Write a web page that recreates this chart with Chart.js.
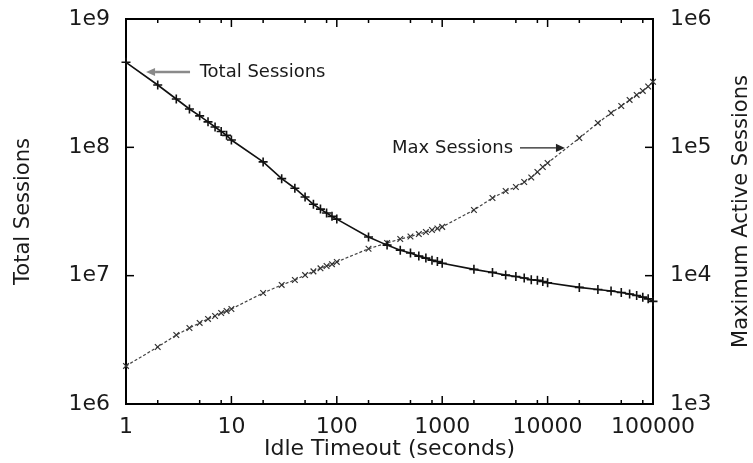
<!DOCTYPE html>
<html lang="en">
<head>
<meta charset="UTF-8">
<title>Idle Timeout vs Sessions</title>
<script src="https://cdn.jsdelivr.net/npm/chart.js@4.4.1/dist/chart.umd.min.js"></script>
<style>
  html, body { margin: 0; padding: 0; background: #fff; }
  #wrap { width: 753px; height: 463px; }
</style>
</head>
<body>
<div id="wrap"><canvas id="chart" width="753" height="463"></canvas></div>
<script>
// idle timeout values (seconds)
const timeouts = [1, 2, 3, 4, 5, 6, 7, 8, 9,
  10, 20, 30, 40, 50, 60, 70, 80, 90,
  100, 200, 300, 400, 500, 600, 700, 800, 900,
  1000, 2000, 3000, 4000, 5000, 6000, 7000, 8000, 9000,
  10000, 20000, 30000, 40000, 50000, 60000, 70000, 80000, 90000,
  100000];

// left axis
const totalSessions = [4.6e8, 3.06e8, 2.38e8, 1.99e8, 1.76e8, 1.58e8, 1.44e8, 1.33e8, 1.24e8,
  1.14e8, 7.7e7, 5.7e7, 4.8e7, 4.1e7, 3.6e7, 3.3e7, 3.08e7, 2.9e7,
  2.76e7, 2.0e7, 1.73e7, 1.58e7, 1.5e7, 1.42e7, 1.37e7, 1.32e7, 1.29e7,
  1.25e7, 1.12e7, 1.06e7, 1.01e7, 9.85e6, 9.6e6, 9.3e6, 9.2e6, 9.0e6,
  8.8e6, 8.1e6, 7.8e6, 7.6e6, 7.4e6, 7.2e6, 7.0e6, 6.8e6, 6.6e6,
  6.3e6];

// right axis
const maxSessions = [1980, 2780, 3450, 3910, 4280, 4600, 4850, 5120, 5310,
  5500, 7330, 8470, 9250, 10100, 10800, 11400, 11900, 12300,
  12800, 16200, 18000, 19300, 20200, 21100, 21900, 22700, 23300,
  24000, 32500, 40300, 45700, 49100, 53700, 58200, 64300, 70300,
  75500, 118000, 155000, 185000, 210000, 234000, 256000, 275000, 298000,
  324000];

const xTicks = [1, 10, 100, 1000, 10000, 100000];
const xTickLabels = ['1', '10', '100', '1000', '10000', '100000'];
const xMinorSteps = [2, 5, 8];
const yTicks = [1e6, 1e7, 1e8, 1e9];
const yTickLabels = ['1e6', '1e7', '1e8', '1e9'];
const y2Ticks = [1e3, 1e4, 1e5, 1e6];
const y2TickLabels = ['1e3', '1e4', '1e5', '1e6'];

const FONT = 'DejaVu Sans';
const INK = '#1a1a1a';

function line(ctx, x1, y1, x2, y2) {
  ctx.beginPath();
  ctx.moveTo(x1, y1);
  ctx.lineTo(x2, y2);
  ctx.stroke();
}

function arrow(ctx, x1, y, x2, color, width, head) {
  // tail at x1, head at x2 (horizontal)
  const dir = x2 > x1 ? 1 : -1;
  ctx.strokeStyle = color;
  ctx.fillStyle = color;
  ctx.lineWidth = width;
  line(ctx, x1, y, x2 - dir * head, y);
  ctx.beginPath();
  ctx.moveTo(x2, y);
  ctx.lineTo(x2 - dir * head, y - head * 0.45);
  ctx.lineTo(x2 - dir * head, y + head * 0.45);
  ctx.closePath();
  ctx.fill();
}

// box + inward tick marks
const framePlugin = {
  id: 'frame',
  beforeDatasetsDraw(chart) {
    const { ctx, chartArea: a, scales } = chart;
    ctx.save();
    ctx.strokeStyle = '#000';
    ctx.lineWidth = 1.5;
    xTicks.forEach(v => {
      const px = scales.x.getPixelForValue(v);
      line(ctx, px, a.bottom, px, a.bottom - 8);
      line(ctx, px, a.top, px, a.top + 8);
    });
    xTicks.slice(0, -1).forEach(v => {
      xMinorSteps.forEach(m => {
        const px = scales.x.getPixelForValue(v * m);
        line(ctx, px, a.bottom, px, a.bottom - 4);
        line(ctx, px, a.top, px, a.top + 4);
      });
    });
    yTicks.forEach(v => {
      const py = scales.y.getPixelForValue(v);
      line(ctx, a.left, py, a.left + 8, py);
    });
    y2Ticks.forEach(v => {
      const py = scales.y2.getPixelForValue(v);
      line(ctx, a.right, py, a.right - 8, py);
    });
    ctx.lineWidth = 2;
    ctx.strokeRect(a.left, a.top, a.right - a.left, a.bottom - a.top);
    ctx.restore();
  },
  afterDraw(chart) {
    const { ctx, chartArea: a, scales } = chart;
    const x = scales.x, y = scales.y, y2 = scales.y2;
    ctx.save();
    ctx.font = '18px "' + FONT + '"';
    ctx.textBaseline = 'middle';

    // "Total Sessions" label with arrow pointing left to the curve
    const ty = y.getPixelForValue(3.86e8);
    arrow(ctx, x.getPixelForValue(4.05), ty, x.getPixelForValue(1.55), '#8a8a8a', 2.5, 9);
    ctx.fillStyle = INK;
    ctx.textAlign = 'left';
    ctx.fillText('Total Sessions', x.getPixelForValue(5.0), ty);

    // "Max Sessions" label with arrow pointing right to the curve
    const my = y2.getPixelForValue(9.9e4);
    arrow(ctx, x.getPixelForValue(5470), my, x.getPixelForValue(14600), '#222', 1.2, 9);
    ctx.fillStyle = INK;
    ctx.textAlign = 'right';
    ctx.fillText('Max Sessions', x.getPixelForValue(4700), my);

    // right axis title, reading bottom to top
    ctx.font = '21px "' + FONT + '"';
    ctx.textAlign = 'center';
    ctx.translate(742, (a.top + a.bottom) / 2);
    ctx.rotate(-Math.PI / 2);
    ctx.fillText('Maximum Active Sessions', 0, 0);
    ctx.restore();
  }
};

const logTicks = (vals, labels) => ({
  afterBuildTicks: s => { s.ticks = vals.map(v => ({ value: v })); },
  ticks: {
    callback: (v) => labels[vals.indexOf(v)] ?? '',
  }
});

const xs = logTicks(xTicks, xTickLabels);
const ys = logTicks(yTicks, yTickLabels);
const y2s = logTicks(y2Ticks, y2TickLabels);

// fix the box sizes so the plot area lands where the original one is
const fitWidth = w => s => { s.width = w; s.paddingTop = 0; s.paddingBottom = 0; };

new Chart(document.getElementById('chart'), {
  type: 'line',
  data: {
    datasets: [
      {
        label: 'Total Sessions',
        data: timeouts.map((t, i) => ({ x: t, y: totalSessions[i] })),
        yAxisID: 'y',
        borderColor: '#111',
        borderWidth: 1.6,
        pointStyle: 'cross',
        pointRadius: 4.5,
        pointBorderWidth: 1.6,
        pointBorderColor: '#111',
        pointBackgroundColor: '#111',
        tension: 0,
        clip: false
      },
      {
        label: 'Max Sessions',
        data: timeouts.map((t, i) => ({ x: t, y: maxSessions[i] })),
        yAxisID: 'y2',
        borderColor: '#444',
        borderWidth: 1.2,
        borderDash: [3, 2],
        pointStyle: 'crossRot',
        pointRadius: 4,
        pointBorderWidth: 1.2,
        pointBorderColor: '#333',
        pointBackgroundColor: '#333',
        tension: 0,
        clip: false
      }
    ]
  },
  options: {
    responsive: false,
    animation: false,
    devicePixelRatio: 1,
    layout: { padding: { top: 19, left: 0, right: 0, bottom: 0 } },
    plugins: { legend: { display: false }, tooltip: { enabled: false } },
    scales: {
      x: {
        type: 'logarithmic',
        min: 1,
        max: 100000,
        afterBuildTicks: xs.afterBuildTicks,
        afterFit: s => { s.height = 59; s.paddingLeft = 0; s.paddingRight = 0; },
        grid: { display: false, drawTicks: false },
        border: { display: false },
        ticks: { ...xs.ticks, color: INK, font: { family: FONT, size: 22 }, padding: 10, maxRotation: 0, autoSkip: false },
        title: { display: true, text: 'Idle Timeout (seconds)', color: INK, font: { family: FONT, size: 22 }, padding: { top: 0, bottom: 1 } }
      },
      y: {
        type: 'logarithmic',
        position: 'left',
        min: 1e6,
        max: 1e9,
        afterBuildTicks: ys.afterBuildTicks,
        afterFit: fitWidth(126),
        grid: { display: false, drawTicks: false },
        border: { display: false },
        ticks: { ...ys.ticks, color: INK, font: { family: FONT, size: 22 }, padding: 16 },
        title: { display: true, text: 'Total Sessions', color: INK, font: { family: FONT, size: 21 }, padding: { top: 11, bottom: 0 } }
      },
      y2: {
        type: 'logarithmic',
        position: 'right',
        min: 1e3,
        max: 1e6,
        afterBuildTicks: y2s.afterBuildTicks,
        afterFit: fitWidth(100),
        grid: { display: false, drawTicks: false },
        border: { display: false },
        ticks: { ...y2s.ticks, color: INK, font: { family: FONT, size: 22 }, padding: 17 }
      }
    }
  },
  plugins: [framePlugin]
});
</script>
</body>
</html>
